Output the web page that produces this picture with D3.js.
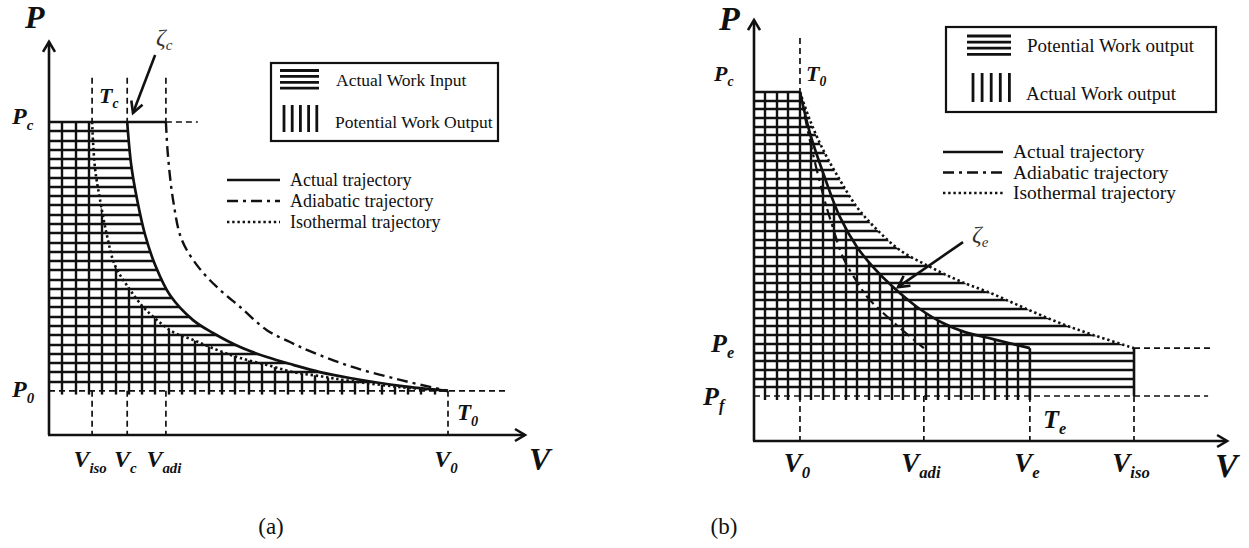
<!DOCTYPE html>
<html>
<head>
<meta charset="utf-8">
<script src="https://cdn.jsdelivr.net/npm/d3@7"></script>
<style>
  body { margin: 0; background: #fff; }
  svg { display: block; }
</style>
</head>
<body>
<div id="graphic"></div>
<script>
// ---------- panel (a): compression, [V, P] ----------
const aActual = [[1.96,10.0],[2.06,8.63],[2.21,7.51],[2.41,6.39],[2.66,5.43],[3.03,4.47],[3.61,3.67],[4.11,3.26],[4.79,2.81],[5.46,2.49],[6.12,2.24],[6.79,2.01],[7.54,1.82],[8.80,1.57],[10.0,1.41]];
const aIsothermal = [[1.08,10.0],[1.15,8.56],[1.28,7.51],[1.45,6.39],[1.65,5.43],[1.98,4.73],[2.36,4.09],[2.71,3.67],[3.11,3.29],[3.61,3.04],[4.21,2.72],[4.79,2.46],[5.46,2.24],[6.12,2.01],[6.79,1.88],[7.54,1.73],[8.80,1.53],[10.0,1.41]];
const aAdiabatic = [[2.93,10.0],[2.98,8.95],[3.11,7.51],[3.33,6.23],[3.76,5.34],[4.29,4.63],[4.79,4.09],[5.46,3.35],[6.04,2.97],[6.54,2.68],[7.54,2.20],[8.80,1.76],[10.0,1.41]];
const aPressures = [["P", "c", 10.0], ["P", "0", 1.41]];
const aVolumes = [["V", "iso", 1.08], ["V", "c", 1.96], ["V", "adi", 2.93], ["V", "0", 10.0]];
const aHatchLegend = ["Actual Work Input", "Potential Work Output"];

// ---------- panel (b): expansion ----------
const bActual = [[1.21,10.0],[1.47,8.83],[1.82,7.68],[2.26,6.42],[2.71,5.56],[3.13,4.99],[3.66,4.41],[4.29,3.84],[4.97,3.38],[5.55,3.12],[6.29,2.92],[7.26,2.66]];
const bIsothermal = [[1.21,10.0],[1.47,9.20],[1.82,8.34],[2.26,7.48],[2.71,6.70],[3.24,6.05],[3.84,5.47],[4.63,4.99],[5.42,4.58],[6.29,4.21],[7.18,3.78],[8.05,3.38],[8.92,3.04],[10.0,2.66]];
const bAdiabatic = [[1.21,10.0],[1.47,8.62],[1.82,7.05],[2.08,6.10],[2.34,5.27],[2.71,4.56],[3.00,4.10],[3.32,3.75],[3.84,3.24],[4.47,2.66]];
const bPressures = [["P", "c", 10.0], ["P", "e", 2.66], ["P", "f", 1.29]];
const bVolumes = [["V", "0", 1.21], ["V", "adi", 4.47], ["V", "e", 7.26], ["V", "iso", 10.0]];
const bHatchLegend = ["Potential Work output", "Actual Work output"];

const trajectoryLegend = ["Actual trajectory", "Adiabatic trajectory", "Isothermal trajectory"];
const captions = ["(a)", "(b)"];

const ink = "#111";
const serif = "'Liberation Serif', 'Times New Roman', serif";
const dashGuide = "6,4";
const dashAdi = "11,5,3,5";
const dotIso = "2.4,2.8";

const svg = d3.select("#graphic").append("svg")
  .attr("width", 1249).attr("height", 548);
const defs = svg.append("defs");

// scales
const xa = d3.scaleLinear().domain([0, 10]).range([49, 448]);
const ya = d3.scaleLinear().domain([0, 10]).range([435, 122]);
const xb = d3.scaleLinear().domain([0, 10]).range([754, 1134]);
const yb = d3.scaleLinear().domain([0, 10]).range([441, 92]);

const curveGen = (x, y) => d3.line()
  .x(d => x(d[0])).y(d => y(d[1]))
  .curve(d3.curveCatmullRom.alpha(0.5));

function seg(g, x1, y1, x2, y2, w, dash) {
  return g.append("line")
    .attr("x1", x1).attr("y1", y1).attr("x2", x2).attr("y2", y2)
    .attr("stroke", ink).attr("stroke-width", w)
    .attr("stroke-dasharray", dash || null);
}

function chevron(g, tx, ty, fx, fy, len, half, w) {
  const dx = tx - fx, dy = ty - fy, L = Math.hypot(dx, dy);
  const ux = dx / L, uy = dy / L, bx = tx - ux * len, by = ty - uy * len;
  g.append("path")
    .attr("d", `M${bx - uy * half},${by + ux * half}L${tx},${ty}L${bx + uy * half},${by - ux * half}`)
    .attr("fill", "none").attr("stroke", ink).attr("stroke-width", w)
    .attr("stroke-linejoin", "miter");
}

function mathLabel(g, x, y, base, sub, size, anchor) {
  const t = g.append("text")
    .attr("x", x).attr("y", y)
    .attr("text-anchor", anchor || "start")
    .attr("font-family", serif).attr("font-weight", "bold").attr("font-style", "italic")
    .attr("font-size", size).attr("fill", ink);
  t.append("tspan").text(base);
  if (sub) t.append("tspan").attr("dy", size * 0.24).attr("font-size", size * 0.62).text(sub);
  return t;
}

function plainText(g, x, y, s, size) {
  return g.append("text").attr("x", x).attr("y", y)
    .attr("font-family", serif).attr("font-size", size).attr("fill", ink).text(s);
}

function clip(id, d) {
  defs.append("clipPath").attr("id", id).append("path").attr("d", d);
  return `url(#${id})`;
}

function axes(g, x, y, vMax, pMax) {
  seg(g, x(0), y(0), x(0), y(pMax), 2.6);
  seg(g, x(0) - 1, y(0), x(vMax), y(0), 2.6);
  chevron(g, x(0), y(pMax), x(0), y(0), 10, 6, 2.6);
  chevron(g, x(vMax), y(0), x(0), y(0), 10, 6, 2.6);
}

function hatchLegend(g, x0, y0, w, h, labels, size, icon) {
  g.append("rect").attr("x", x0).attr("y", y0).attr("width", w).attr("height", h)
    .attr("fill", "none").attr("stroke", ink).attr("stroke-width", 2.2);
  d3.range(4).forEach(i => seg(g, x0 + icon.hx, y0 + icon.hy + i * icon.hs, x0 + icon.hx + icon.hw, y0 + icon.hy + i * icon.hs, 2.8));
  d3.range(5).forEach(i => seg(g, x0 + icon.vx + i * icon.vs, y0 + icon.vy, x0 + icon.vx + i * icon.vs, y0 + icon.vy + icon.vh, 2.8));
  plainText(g, x0 + icon.tx, y0 + icon.t1, labels[0], size);
  plainText(g, x0 + icon.tx - 1, y0 + icon.t2, labels[1], size);
}

function lineLegend(g, x0, y0, len, gap, labels, size) {
  const styles = [null, dashAdi, dotIso];
  labels.forEach((s, i) => {
    seg(g, x0, y0 + i * gap, x0 + len, y0 + i * gap, 2.4, styles[i]);
    plainText(g, x0 + len + 10, y0 + i * gap + 6, s, size);
  });
}

// =================== panel (a) ===================
const ga = svg.append("g");
const lineA = curveGen(xa, ya);
const aP0 = aPressures[1][2], aPc = aPressures[0][2];
const aVc = aVolumes[1][2], aVadi = aVolumes[2][2], aV0 = aVolumes[3][2];

// horizontal hatch: left of the actual trajectory
const aClipH = clip("clipAH", lineA(aActual) + `L${xa(0)},${ya(aP0)}L${xa(0)},${ya(aPc)}Z`);
const nA = 29;
ga.append("g").attr("clip-path", aClipH).selectAll("line")
  .data(d3.range(1, nA).map(i => aP0 + i * (aPc - aP0) / nA))
  .join("line")
  .attr("x1", xa(0)).attr("x2", xa(aV0))
  .attr("y1", d => Math.round(ya(d))).attr("y2", d => Math.round(ya(d)))
  .attr("stroke", ink).attr("stroke-width", 2.6);

// vertical hatch: left of the isothermal trajectory
const aClipV = clip("clipAV", lineA(aIsothermal) + `L${xa(aV0)},${ya(aP0) + 4}L${xa(0)},${ya(aP0) + 4}L${xa(0)},${ya(aPc)}Z`);
const mA = 30;
ga.append("g").attr("clip-path", aClipV).selectAll("line")
  .data(d3.range(1, mA).map(i => i * aV0 / mA))
  .join("line")
  .attr("x1", d => Math.round(xa(d))).attr("x2", d => Math.round(xa(d)))
  .attr("y1", ya(aP0) + 4).attr("y2", ya(aPc))
  .attr("stroke", ink).attr("stroke-width", 2.4);

// guides
seg(ga, xa(0), ya(aPc), xa(aVadi), ya(aPc), 2.6);
seg(ga, xa(aVadi), ya(aPc), xa(3.73), ya(aPc), 1.7, dashGuide);
seg(ga, xa(0), ya(aP0), xa(11.43), ya(aP0), 1.7, dashGuide);
aVolumes.slice(0, 3).forEach(v => seg(ga, xa(v[2]), ya(11.41), xa(v[2]), ya(aPc), 1.7, dashGuide));
aVolumes.forEach(v => seg(ga, xa(v[2]), ya(aP0), xa(v[2]), ya(0), 1.7, dashGuide));

// trajectories
ga.append("path").attr("d", lineA(aIsothermal)).attr("fill", "none")
  .attr("stroke", ink).attr("stroke-width", 2.6).attr("stroke-dasharray", dotIso);
ga.append("path").attr("d", lineA(aAdiabatic)).attr("fill", "none")
  .attr("stroke", ink).attr("stroke-width", 2.4).attr("stroke-dasharray", dashAdi);
ga.append("path").attr("d", lineA(aActual)).attr("fill", "none")
  .attr("stroke", ink).attr("stroke-width", 2.7);

axes(ga, xa, ya, 11.93, 12.56);

// labels
mathLabel(ga, 25, 28, "P", null, 32);
mathLabel(ga, 529, 470, "V", null, 32);
mathLabel(ga, 12, ya(aPc) + 2, aPressures[0][0], aPressures[0][1], 24);
mathLabel(ga, 12, ya(aP0) + 6, aPressures[1][0], aPressures[1][1], 24);
aVolumes.forEach(v => mathLabel(ga, xa(v[2]) - 2, 467, v[0], v[1], 24, "middle"));
mathLabel(ga, 99, 103, "T", "c", 22);
mathLabel(ga, 457, 420, "T", "0", 23);

// zeta_c annotation
seg(ga, xa(2.66), ya(12.14), xa(2.105), ya(10.29), 2.6);
chevron(ga, xa(2.105), ya(10.29), xa(2.66), ya(12.14), 11, 6, 2.6);
ga.append("text").attr("x", 156).attr("y", 45)
  .attr("font-family", serif).attr("font-style", "italic").attr("fill", "#333")
  .attr("font-size", 24)
  .call(t => { t.append("tspan").text("ζ"); t.append("tspan").attr("dy", 5).attr("font-size", 15).text("c"); });

hatchLegend(ga, 271, 63, 227, 78, aHatchLegend, 17.5,
  { hx: 9, hy: 7.5, hs: 5.9, hw: 39, vx: 13, vs: 8.2, vy: 42, vh: 27, tx: 65, t1: 23, t2: 65 });
lineLegend(ga, 227, 180, 53, 21, trajectoryLegend, 18);

// =================== panel (b) ===================
const gb = svg.append("g");
const lineB = curveGen(xb, yb);
const bPc = bPressures[0][2], bPe = bPressures[1][2], bPf = bPressures[2][2];
const bV0 = bVolumes[0][2], bVe = bVolumes[2][2], bViso = bVolumes[3][2];

// horizontal hatch: left of the isothermal trajectory and down to Viso
const bClipH = clip("clipBH", lineB(bIsothermal) + `L${xb(bViso)},${yb(bPf)}L${xb(0)},${yb(bPf)}L${xb(0)},${yb(bPc)}Z`);
const nB = 35;
gb.append("g").attr("clip-path", bClipH).selectAll("line")
  .data(d3.range(1, nB).map(i => bPf + i * (bPc - bPf) / nB))
  .join("line")
  .attr("x1", xb(0)).attr("x2", xb(bViso))
  .attr("y1", d => Math.round(yb(d))).attr("y2", d => Math.round(yb(d)))
  .attr("stroke", ink).attr("stroke-width", 2.6);

// vertical hatch: left of the actual trajectory
const bClipV = clip("clipBV", lineB(bActual) + `L${xb(bVe)},${yb(bPf) + 4}L${xb(0)},${yb(bPf) + 4}L${xb(0)},${yb(bPc)}Z`);
const mB = 24;
gb.append("g").attr("clip-path", bClipV).selectAll("line")
  .data(d3.range(1, mB).map(i => i * bVe / mB))
  .join("line")
  .attr("x1", d => Math.round(xb(d))).attr("x2", d => Math.round(xb(d)))
  .attr("y1", yb(bPf) + 4).attr("y2", yb(bPc))
  .attr("stroke", ink).attr("stroke-width", 2.4);

// guides
seg(gb, xb(0), yb(bPc), xb(bV0), yb(bPc), 2.6);
seg(gb, xb(bVe), yb(bPe), xb(bVe), yb(bPf) + 4, 2.6);
seg(gb, xb(bViso), yb(bPe), xb(bViso), yb(bPf), 2.6);
seg(gb, xb(bViso), yb(bPe), xb(12.08), yb(bPe), 1.7, dashGuide);
seg(gb, xb(0), yb(bPf), xb(11.95), yb(bPf), 1.7, dashGuide);
seg(gb, xb(bV0), yb(11.55), xb(bV0), yb(bPc), 1.7, dashGuide);
bVolumes.forEach(v => seg(gb, xb(v[2]), yb(bPf), xb(v[2]), yb(0), 1.7, dashGuide));

// trajectories
gb.append("path").attr("d", lineB(bIsothermal)).attr("fill", "none")
  .attr("stroke", ink).attr("stroke-width", 2.6).attr("stroke-dasharray", dotIso);
gb.append("path").attr("d", lineB(bAdiabatic)).attr("fill", "none")
  .attr("stroke", ink).attr("stroke-width", 2.2).attr("stroke-dasharray", dashAdi);
gb.append("path").attr("d", lineB(bActual)).attr("fill", "none")
  .attr("stroke", ink).attr("stroke-width", 2.7);

axes(gb, xb, yb, 12.45, 12.06);

mathLabel(gb, 719, 30, "P", null, 34);
mathLabel(gb, 1215, 477, "V", null, 34);
mathLabel(gb, 714, 81, bPressures[0][0], bPressures[0][1], 22);
mathLabel(gb, 711, yb(bPe) + 4, bPressures[1][0], bPressures[1][1], 26);
mathLabel(gb, 703, yb(bPf) + 9, bPressures[2][0], bPressures[2][1], 26);
bVolumes.forEach(v => mathLabel(gb, xb(v[2]) - 3, 472, v[0], v[1], 27, "middle"));
mathLabel(gb, 806, 81, "T", "0", 22);
mathLabel(gb, 1043, 428, "T", "e", 26);

// zeta_e annotation
seg(gb, xb(5.5), yb(5.70), xb(3.79), yb(4.41), 2.6);
chevron(gb, xb(3.79), yb(4.41), xb(5.5), yb(5.70), 11, 6, 2.6);
gb.append("text").attr("x", 972).attr("y", 242)
  .attr("font-family", serif).attr("font-style", "italic").attr("fill", "#333")
  .attr("font-size", 24)
  .call(t => { t.append("tspan").text("ζ"); t.append("tspan").attr("dy", 5).attr("font-size", 15).text("e"); });

hatchLegend(gb, 946, 27, 270, 85, bHatchLegend, 19,
  { hx: 21, hy: 9, hs: 6.1, hw: 44, vx: 27, vs: 9.1, vy: 46, vh: 29, tx: 81, t1: 25, t2: 73 });
lineLegend(gb, 943, 152, 60, 20.5, trajectoryLegend, 19.5);

// captions
svg.selectAll(".caption").data(captions).join("text")
  .attr("class", "caption")
  .attr("x", (d, i) => i === 0 ? 271 : 724).attr("y", 534)
  .attr("text-anchor", "middle")
  .attr("font-family", serif).attr("font-size", 23).attr("fill", ink)
  .text(d => d);
</script>
</body>
</html>
